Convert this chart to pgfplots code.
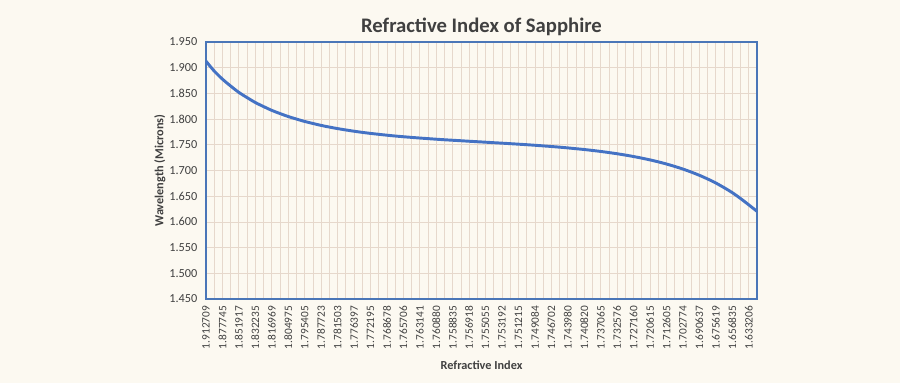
\documentclass[border=0pt]{standalone}
\usepackage{pgfplots}
\pgfplotsset{compat=1.18}
\usepackage{fontspec}
\setmainfont{Carlito}
\usetikzlibrary{backgrounds}
\definecolor{bgc}{HTML}{FCF9F1}
\definecolor{gridc}{HTML}{E6D8CC}
\definecolor{linec}{HTML}{4472C4}
\definecolor{framec}{HTML}{4A76B8}
\definecolor{txt}{HTML}{404040}
\pgfplotstableread{
i n
0 1.912709
1 1.8935
2 1.877745
3 1.8643
4 1.851917
5 1.8418
6 1.832235
7 1.8244
8 1.816969
9 1.8108
10 1.804975
11 1.8001
12 1.795405
13 1.7915
14 1.787723
15 1.7845
16 1.781503
17 1.7789
18 1.776397
19 1.7742
20 1.772195
21 1.7704
22 1.768678
23 1.7671
24 1.765706
25 1.7644
26 1.763141
27 1.7620
28 1.760880
29 1.7598
30 1.758835
31 1.7579
32 1.756918
33 1.7560
34 1.755055
35 1.7541
36 1.753192
37 1.7522
38 1.751215
39 1.7502
40 1.749084
41 1.7479
42 1.746702
43 1.7454
44 1.743980
45 1.7424
46 1.740820
47 1.7390
48 1.737065
49 1.7349
50 1.732576
51 1.7300
52 1.727160
53 1.7240
54 1.720615
55 1.7168
56 1.712605
57 1.7079
58 1.702774
59 1.6970
60 1.690637
61 1.6835
62 1.675619
63 1.6666
64 1.656835
65 1.6455
66 1.633206
67 1.6205
}\datatable
\begin{document}
\begin{tikzpicture}[x=1pt,y=1pt]
\begin{axis}[
  at={(0pt,0pt)}, anchor=south west,
  scale only axis,
  width=413.25pt, height=192.75pt,
  xmin=0, xmax=67,
  ymin=1.45, ymax=1.95,
  ytick={1.45,1.5,...,1.951},
  /pgf/number format/assume math mode=true,
  yticklabel style={/pgf/number format/fixed, /pgf/number format/fixed zerofill, /pgf/number format/precision=3, font=\fontsize{9.2}{11}\selectfont, text=txt, xshift=-3pt},
  xtick={0,2,...,66},
  minor xtick={1,3,...,67},
  xticklabels={1.912709,1.877745,1.851917,1.832235,1.816969,1.804975,1.795405,1.787723,1.781503,1.776397,1.772195,1.768678,1.765706,1.763141,1.760880,1.758835,1.756918,1.755055,1.753192,1.751215,1.749084,1.746702,1.743980,1.740820,1.737065,1.732576,1.727160,1.720615,1.712605,1.702774,1.690637,1.675619,1.656835,1.633206},
  xticklabel style={rotate=90, anchor=east, font=\fontsize{8.5}{9}\selectfont, text=txt, inner sep=2pt, xshift=-3pt},
  major tick length=0pt, minor tick length=0pt,
  grid=both,
  major grid style={gridc, line width=0.6pt},
  minor grid style={gridc, line width=0.6pt},
  axis background/.style={fill=bgc},
  axis line style={framec, line width=1.2pt},
  title={\textbf{Refractive Index of Sapphire}},
  title style={font=\fontsize{15.5}{18}\selectfont, text=txt, at={(0.5,1)}, anchor=base, yshift=1.5pt},
  xlabel={\textbf{Refractive Index}},
  ylabel={\textbf{Wavelength (Microns)}},
  xlabel style={font=\fontsize{9.2}{11}\selectfont, text=txt, yshift=-3pt},
  ylabel style={font=\fontsize{9.2}{11}\selectfont, text=txt, yshift=-4pt},
]
\addplot[linec, line width=2.2pt, no marks, smooth] table[x=i, y=n] {\datatable};
\end{axis}
\begin{scope}[on background layer]
\fill[bgc] (-154.5pt,-63pt) rectangle (520.5pt,224.25pt);
\end{scope}
\useasboundingbox (-154.5pt,-63pt) rectangle (520.5pt,224.25pt);
\end{tikzpicture}
\end{document}
